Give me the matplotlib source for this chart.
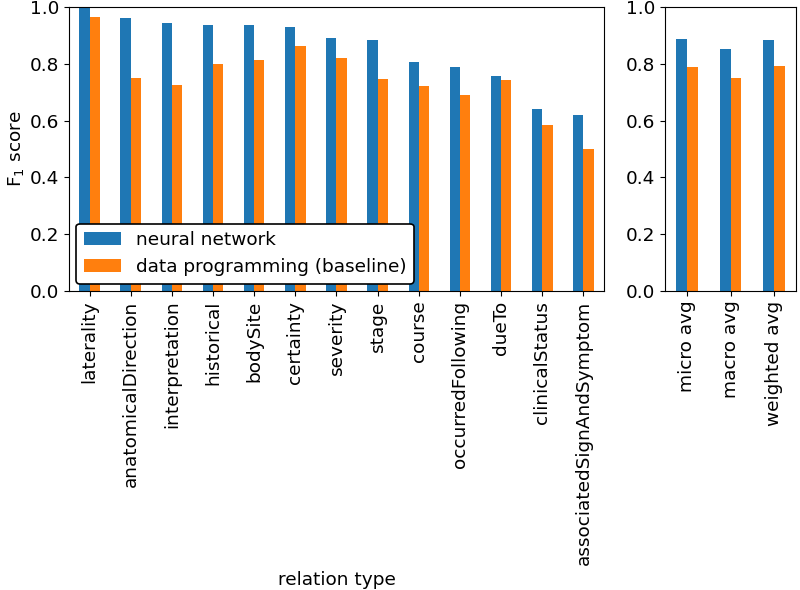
import numpy as np
import matplotlib
matplotlib.use('Agg')
import matplotlib.pyplot as plt

relations = ['laterality', 'anatomicalDirection', 'interpretation', 'historical',
             'bodySite', 'certainty', 'severity', 'stage', 'course',
             'occurredFollowing', 'dueTo', 'clinicalStatus',
             'associatedSignAndSymptom']
nn_scores = [0.995, 0.96, 0.945, 0.935, 0.935, 0.93, 0.89, 0.883, 0.805,
             0.79, 0.758, 0.64, 0.62]
dp_scores = [0.965, 0.75, 0.727, 0.80, 0.812, 0.863, 0.82, 0.745, 0.723,
             0.69, 0.742, 0.583, 0.50]

averages = ['micro avg', 'macro avg', 'weighted avg']
nn_avg = [0.886, 0.853, 0.885]
dp_avg = [0.79, 0.749, 0.794]

BLUE = '#1f77b4'
ORANGE = '#ff7f0e'
width = 0.25
FS = 13.3

fig = plt.figure(figsize=(8, 5.9), dpi=100)
ax1 = fig.add_axes([69/800, 299/590, 535/800, 284/590])
ax2 = fig.add_axes([665/800, 299/590, 131/800, 284/590])

x = np.arange(len(relations))
ax1.bar(x - width/2, nn_scores, width, color=BLUE, label='neural network')
ax1.bar(x + width/2, dp_scores, width, color=ORANGE, label='data programming (baseline)')
ax1.set_xlim(-0.5, len(relations) - 0.5)
ax1.set_ylim(0, 1.0)
ax1.set_xticks(x)
ax1.set_xticklabels(relations, rotation=90, fontsize=FS)
ax1.tick_params(axis='y', labelsize=FS)
ax1.set_ylabel('F$_1$ score', fontsize=FS, labelpad=3)
ax1.set_xlabel('relation type', fontsize=FS)
ax1.xaxis.set_label_coords(0.5, -0.985)
leg = ax1.legend(loc='lower left', fontsize=FS, framealpha=1,
                 edgecolor='black', fancybox=True, borderaxespad=0.4)
leg.get_frame().set_linewidth(1.2)

x2 = np.arange(len(averages))
ax2.bar(x2 - width/2, nn_avg, width, color=BLUE)
ax2.bar(x2 + width/2, dp_avg, width, color=ORANGE)
ax2.set_xlim(-0.5, len(averages) - 0.5)
ax2.set_ylim(0, 1.0)
ax2.set_xticks(x2)
ax2.set_xticklabels(averages, rotation=90, fontsize=FS)
ax2.tick_params(axis='y', labelsize=FS)

plt.savefig('out.png', dpi=100)
